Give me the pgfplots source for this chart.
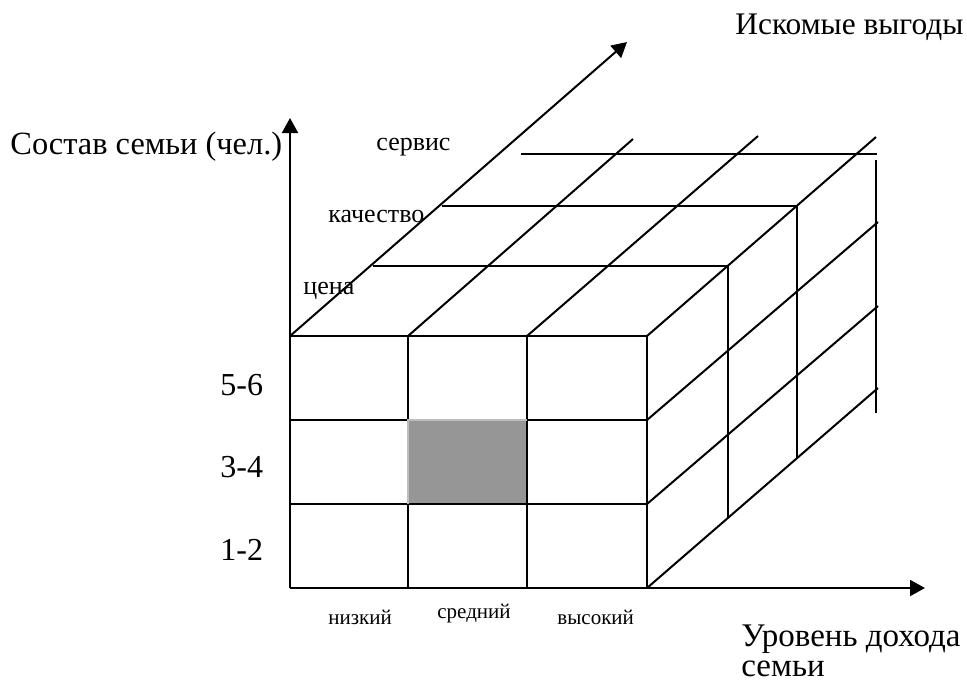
\documentclass[border=0pt]{standalone}
\usepackage{pgfplots}
\pgfplotsset{compat=1.18}
\usetikzlibrary{arrows.meta}
\usepackage{fontspec}
\setmainfont{Liberation Serif}
\definecolor{cellgray}{RGB}{150,150,150}
\definecolor{edgegray}{RGB}{190,190,190}
\newcommand\seg[4]{\addplot[black,line width=1pt] coordinates {(#1,#2) (#3,#4)};}
\newcommand\arr[4]{\addplot[black,line width=1pt,-{Triangle[length=7.5pt,width=8pt]}] coordinates {(#1,#2) (#3,#4)};}
\begin{document}
\begin{tikzpicture}
\begin{axis}[
  x=0.5pt, y=0.5pt,
  xmin=0, xmax=967, ymin=0, ymax=682,
  y dir=reverse,
  hide axis, clip=false,
  scale only axis,
  anchor=south west, at={(0,0)},
]
% shaded cell
\addplot[fill=cellgray, draw=none] coordinates {(408,420) (527,420) (527,504) (408,504)} -- cycle;
% front face
\seg{290}{336}{647}{336}
\seg{290}{420}{408}{420}
\seg{527}{420}{647}{420}
\seg{290}{504}{647}{504}
\seg{408}{336}{408}{420}
\seg{408}{504}{408}{588}
\seg{527}{336}{527}{588}
\seg{647}{336}{647}{588}
\addplot[edgegray,line width=1pt] coordinates {(408,504) (408,420) (527,420)};
% axes
\arr{290}{588}{925}{588}
\arr{290}{588}{290}{118}
\arr{290}{336}{627}{42}
% top face
\seg{408}{336}{633}{139}
\seg{527}{336}{758}{136}
\seg{647}{336}{876}{137}
\seg{373}{266}{728}{266}
\seg{442}{206}{797}{206}
\seg{521}{154}{877}{154}
% right face
\seg{647}{420}{878}{222}
\seg{647}{504}{878}{306}
\seg{647}{588}{878}{388}
\seg{728}{266}{728}{518}
\seg{797}{206}{797}{458}
\seg{876}{160}{876}{413}
% texts
\node[anchor=base west,inner sep=0pt,font=\fontsize{15.7}{18}\selectfont] at (axis cs:735,34) {Искомые выгоды};
\node[anchor=base west,inner sep=0pt,font=\fontsize{16.2}{18}\selectfont] at (axis cs:10,154) {Состав семьи (чел.)};
\node[anchor=base west,inner sep=0pt,font=\fontsize{13}{15}\selectfont] at (axis cs:376,150) {сервис};
\node[anchor=base west,inner sep=0pt,font=\fontsize{13}{15}\selectfont] at (axis cs:328,222) {качество};
\node[anchor=base west,inner sep=0pt,font=\fontsize{13}{15}\selectfont] at (axis cs:303,294) {цена};
\node[anchor=base west,inner sep=0pt,font=\fontsize{16}{18}\selectfont] at (axis cs:220,395) {5-6};
\node[anchor=base west,inner sep=0pt,font=\fontsize{16}{18}\selectfont] at (axis cs:220,477) {3-4};
\node[anchor=base west,inner sep=0pt,font=\fontsize{16}{18}\selectfont] at (axis cs:220,560) {1-2};
\node[anchor=base west,inner sep=0pt,font=\fontsize{10.5}{12}\selectfont] at (axis cs:328,624) {низкий};
\node[anchor=base west,inner sep=0pt,font=\fontsize{10.5}{12}\selectfont] at (axis cs:437,618) {средний};
\node[anchor=base west,inner sep=0pt,font=\fontsize{10.5}{12}\selectfont] at (axis cs:557,624) {высокий};
\node[anchor=base west,inner sep=0pt,font=\fontsize{16.5}{18}\selectfont] at (axis cs:741,646) {Уровень дохода};
\node[anchor=base west,inner sep=0pt,font=\fontsize{16.5}{18}\selectfont] at (axis cs:741,676) {семьи};
\end{axis}
\pgfresetboundingbox
\useasboundingbox (0,0) rectangle (483.5pt,341pt);
\end{tikzpicture}
\end{document}
